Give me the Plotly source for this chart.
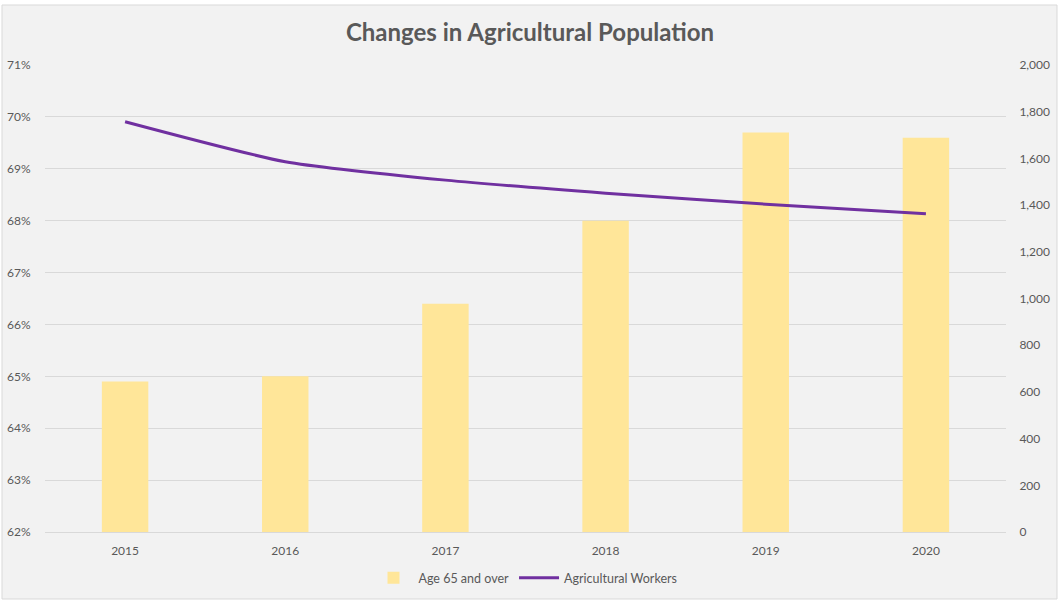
import plotly.graph_objects as go

years = ["2015", "2016", "2017", "2018", "2019", "2020"]
age65_share = [64.9, 65.0, 66.4, 68.0, 69.7, 69.6]
workers = [1757, 1586, 1507, 1451, 1404, 1363]

FONT = "Lato"
TXT = "#595959"

fig = go.Figure()
fig.add_trace(go.Bar(
    x=years, y=age65_share, name="Age 65 and over",
    marker=dict(color="#ffe699", line=dict(width=0)),
    width=0.29, yaxis="y",
))
fig.add_trace(go.Scatter(
    x=years, y=workers, name="Agricultural Workers", mode="lines",
    line=dict(color="#7030a0", width=3, shape="spline", smoothing=0.6),
    yaxis="y2",
))

L, R, T, B = 45, 54, 65, 74
W, H = 1060, 606
pw, ph = W - L - R, H - T - B

def px(x):
    return (x - L) / pw

def py(y):
    return (H - B - y) / ph

fig.add_shape(type="rect", xref="paper", yref="paper",
              x0=px(2), x1=px(1057), y0=py(599), y1=py(5),
              fillcolor="#f2f2f2", line=dict(color="#d9d9d9", width=1),
              layer="below")

HIDDEN = "rgba(0,0,0,0)"
fig.update_layout(
    width=W, height=H,
    margin=dict(l=L, r=R, t=T, b=B, autoexpand=False),
    paper_bgcolor="white",
    plot_bgcolor="rgba(0,0,0,0)",
    font=dict(family=FONT, size=12, color=TXT),
    title=dict(text="<b>Changes in Agricultural Population</b>",
               x=0.5, xanchor="center", y=1 - 33 / H, yanchor="middle",
               font=dict(family=FONT, size=24, color=TXT)),
    showlegend=True,
    legend=dict(orientation="h", x=0.5, xanchor="center",
                y=py(578), yanchor="middle",
                font=dict(family=FONT, size=12.5, color=TXT),
                bgcolor="rgba(0,0,0,0)", traceorder="normal",
                itemwidth=40),
    xaxis=dict(type="category", showgrid=False, showline=True,
               linecolor="#d9d9d9", linewidth=1, automargin=False,
               ticks="outside", ticklen=8, tickcolor=HIDDEN,
               tickfont=dict(size=12, color=TXT), zeroline=False),
    yaxis=dict(range=[62, 71], dtick=1, ticksuffix="%", showgrid=True,
               gridcolor="#d9d9d9", gridwidth=1, zeroline=False,
               automargin=False,
               showline=False, ticks="outside", ticklen=11, tickcolor=HIDDEN,
               tickfont=dict(size=12, color=TXT)),
    yaxis2=dict(range=[0, 2000], dtick=200, tickformat=",d", overlaying="y",
                side="right", showgrid=False, zeroline=False, showline=False,
                automargin=False,
                ticks="outside", ticklen=10, tickcolor=HIDDEN,
                tickfont=dict(size=12, color=TXT)),
)

fig.write_html("out.html", config={"displayModeBar": False},
               post_script="document.body.style.margin='0';document.body.style.overflow='hidden';")
